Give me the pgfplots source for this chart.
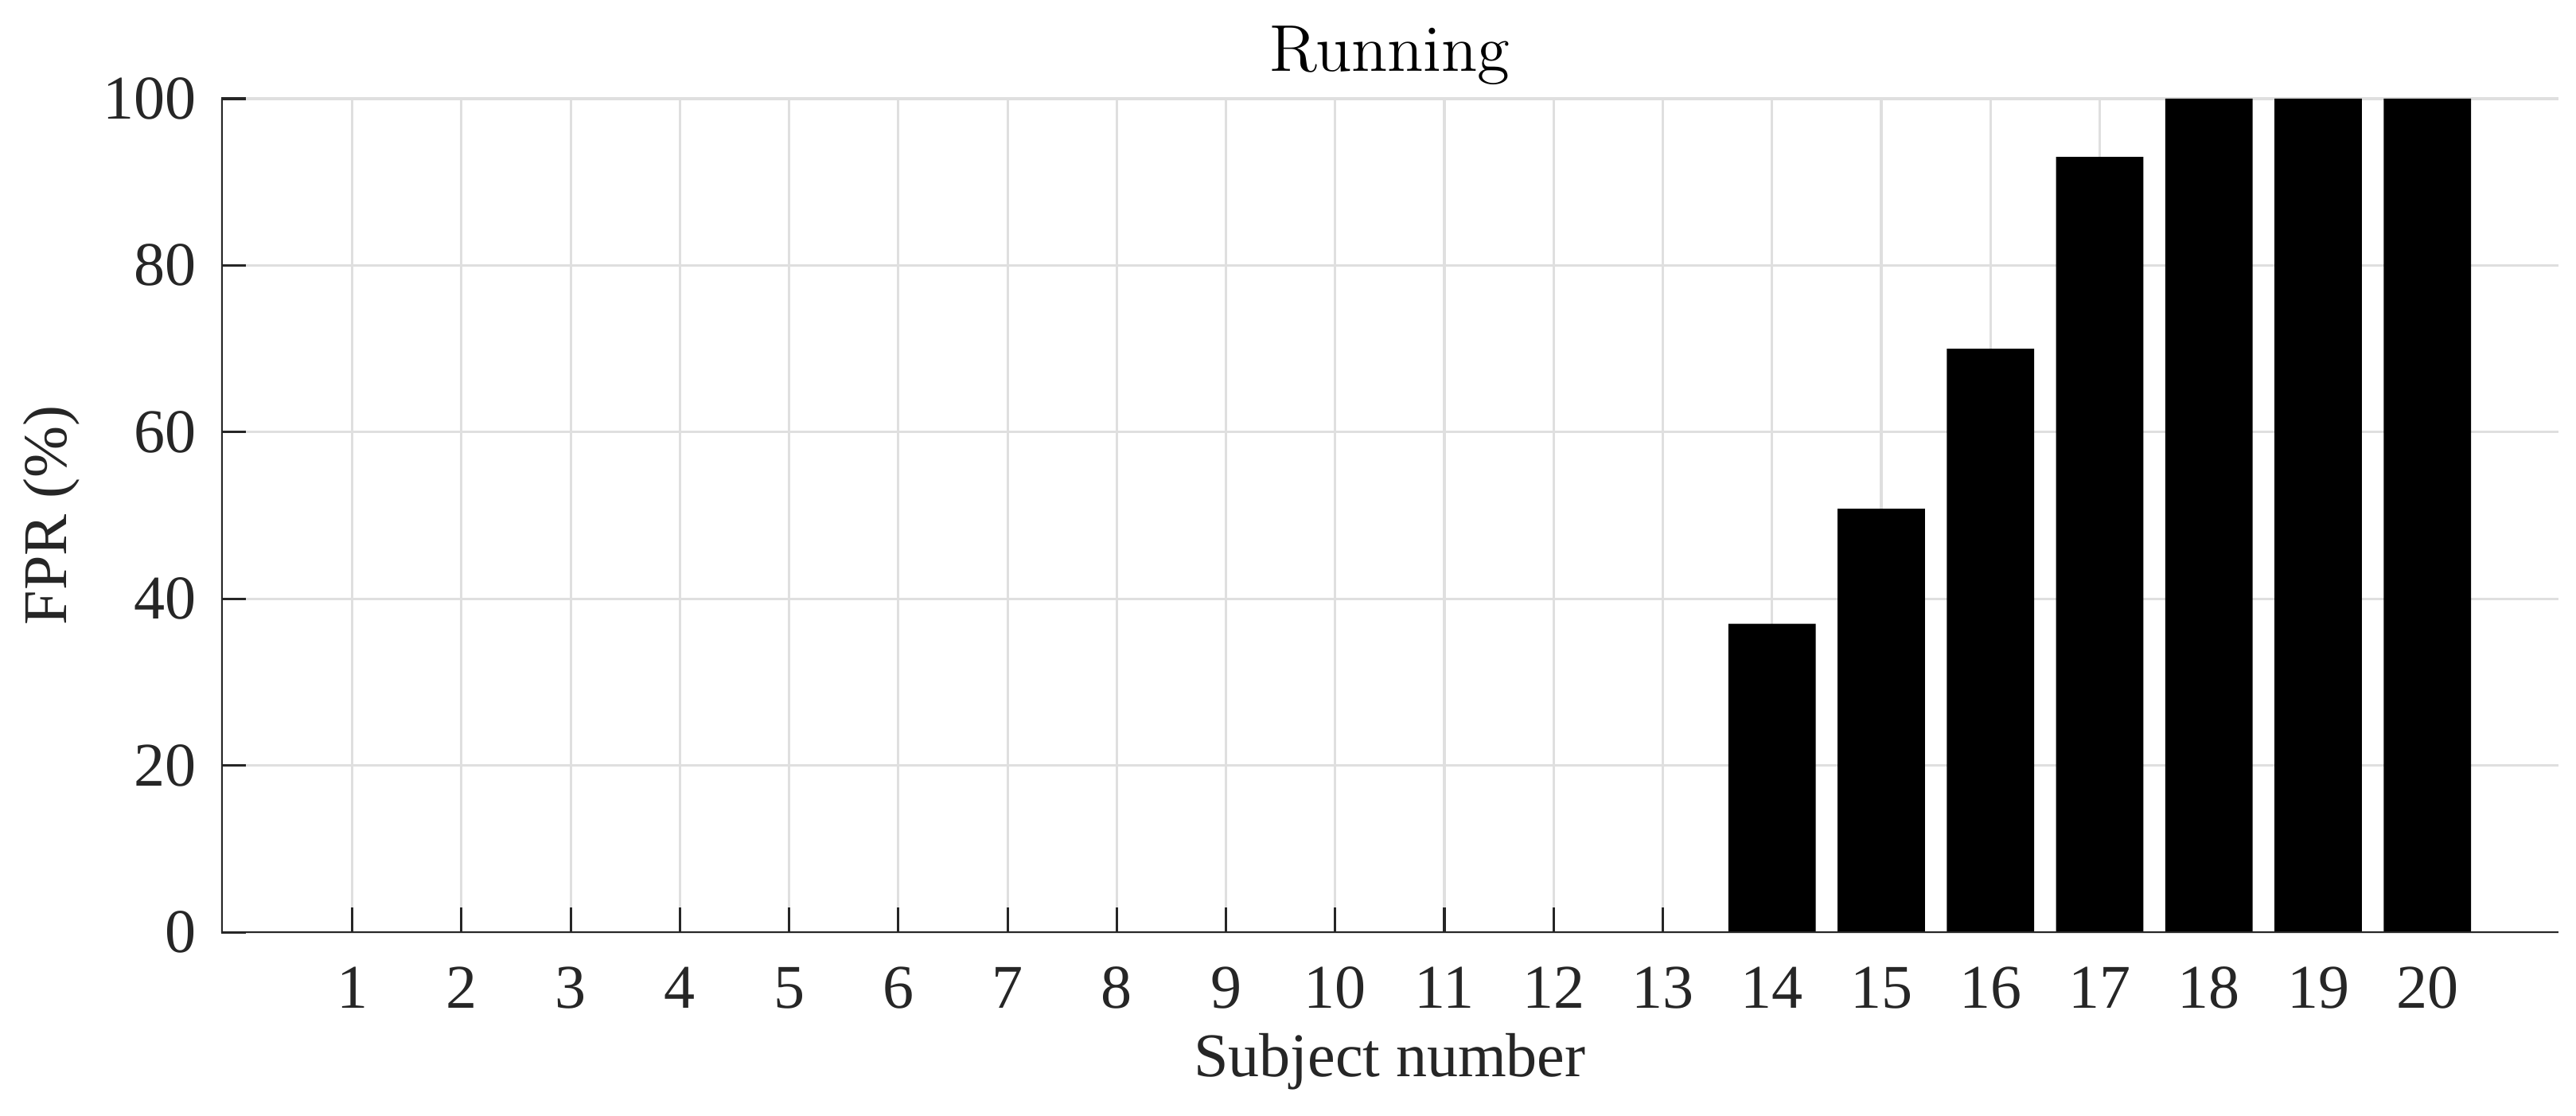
\documentclass[border=0pt]{standalone}
\usepackage{fontspec}
\usepackage{pgfplots}
\pgfplotsset{compat=1.18}
\newfontfamily\timesfont{Liberation Serif}
\definecolor{axcol}{RGB}{38,38,38}
\definecolor{gridcol}{RGB}{223,223,223}
\begin{document}
\begin{tikzpicture}
\path[use as bounding box] (-39.15pt,-32.4pt) rectangle (416.8pt,164.96pt);
\begin{axis}[
  ybar, bar width=0.8,
  at={(0,0)}, anchor=south west,
  scale only axis,
  width=413.7pt, height=147.5pt,
  xmin=-0.2, xmax=21.2,
  ymin=0, ymax=100,
  axis line style={draw=none},
  xtick pos=bottom, ytick pos=left,
  xtick={1,2,...,20},
  ytick={0,20,40,60,80,100},
  tick align=inside,
  xtick align=inside, ytick align=inside,
  major tick length=4.4pt,
  tick style={color=axcol, line width=0.45pt},
  grid=major,
  major grid style={color=gridcol, line width=0.45pt},
  /pgf/number format/assume math mode=true,
  ticklabel style={font=\timesfont\fontsize{11}{13}\selectfont, color=axcol},
  xticklabel style={anchor=base, yshift=-13.4pt},
  yticklabel style={anchor=east, inner sep=0pt, xshift=-4.2pt},
  xlabel={Subject number},
  ylabel={FPR (\%)},
  title={Running},
  every axis x label/.style={at={(axis description cs:0.5,0)}, anchor=base, yshift=-25.5pt, font=\timesfont\fontsize{11}{13}\selectfont, color=axcol},
  every axis y label/.style={at={(axis description cs:0,0.5)}, rotate=90, anchor=base, yshift=27.4pt, font=\timesfont\fontsize{11}{13}\selectfont, color=axcol},
  every axis title/.style={at={(axis description cs:0.5,1)}, anchor=base, yshift=4.8pt, font=\normalfont\fontsize{11.7}{14}\selectfont},
]
\addplot[fill=black, draw=none] coordinates {
  (1,0) (2,0) (3,0) (4,0) (5,0) (6,0) (7,0) (8,0) (9,0) (10,0)
  (11,0) (12,0) (13,0) (14,37.0) (15,50.8) (16,70.0) (17,93.0)
  (18,100) (19,100) (20,100)
};
\draw[color=axcol, line width=0.45pt] (rel axis cs:0,1) -- (rel axis cs:0,0) -- (rel axis cs:1,0);
\end{axis}
\end{tikzpicture}
\end{document}
